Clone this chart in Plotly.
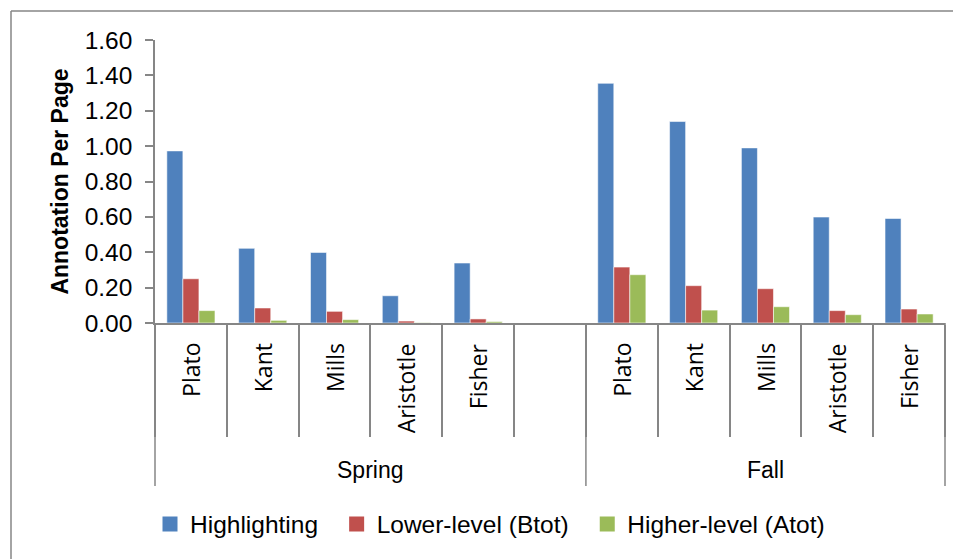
import plotly.graph_objects as go

# ---- data ----
seasons = ["Spring", "Fall"]
spring_names = ["Plato", "Kant", "Mills", "Aristotle", "Fisher"]
fall_names = ["Plato", "Kant", "Mills", "Aristotle", "Fisher"]
series_names = ["Highlighting", "Lower-level (Btot)", "Higher-level (Atot)"]
highlighting_spring = [0.973, 0.422, 0.399, 0.154, 0.339]
highlighting_fall = [1.355, 1.139, 0.990, 0.599, 0.591]
lower_spring = [0.250, 0.085, 0.066, 0.011, 0.023]
lower_fall = [0.316, 0.211, 0.194, 0.070, 0.079]
higher_spring = [0.070, 0.015, 0.019, 0.002, 0.008]
higher_fall = [0.273, 0.073, 0.092, 0.047, 0.051]
y_ticks = [0.0, 0.2, 0.4, 0.6, 0.8, 1.0, 1.2, 1.4, 1.6]

colors = ["#4F81BD", "#C0504D", "#9BBB59"]

# category keys: 5 spring, one empty slot, 5 fall
cats = ["Spring " + n for n in spring_names] + ["Spring (blank)"] + ["Fall " + n for n in fall_names]
labels = spring_names + [""] + fall_names

def build(sp, fa):
    return list(sp) + [None] + list(fa)

series_vals = [
    build(highlighting_spring, highlighting_fall),
    build(lower_spring, lower_fall),
    build(higher_spring, higher_fall),
]

FONT = "Liberation Sans"
GRAY = "#868686"

# page has an 8px body offset; figure is sized/placed to compensate
OFF = 8
W, H = 961 - OFF, 559 - OFF
L, R, T, B = 155 - OFF, 16, 40 - OFF, 236
PW = W - L - R
PH = H - T - B
BOTTOM = 323  # page y of plot bottom

def py(px):
    """page pixel y -> paper fraction"""
    return -(px - BOTTOM) / PH

def pxx(px):
    """page pixel x -> paper fraction"""
    return (px - 155) / PW

fig = go.Figure()
for name, vals, col in zip(series_names, series_vals, colors):
    fig.add_trace(go.Bar(
        x=cats, y=vals, name=name, showlegend=False,
        marker=dict(color=col, line=dict(color="rgba(255,255,255,0.55)", width=1)),
    ))
# legend entries (square swatches)
pad = "\u00a0\u00a0"
for name, col in zip(series_names, colors):
    fig.add_trace(go.Scatter(
        x=[None], y=[None], mode="markers", name=name + pad,
        marker=dict(symbol="square", size=15, color=col),
    ))

shapes = []
# outer divider extensions (inner separators come from axis ticks)
for xr, xv in [("paper", 0), ("x", 5.5), ("paper", 1)]:
    shapes.append(dict(type="line", xref=xr, yref="paper", x0=xv, x1=xv,
                       y0=0, y1=py(486), line=dict(color=GRAY, width=1.5)))
# outer border (left and top)
shapes.append(dict(type="line", xref="paper", yref="paper",
                   x0=pxx(11), x1=pxx(11), y0=py(11), y1=py(620),
                   line=dict(color=GRAY, width=1.5)))
shapes.append(dict(type="line", xref="paper", yref="paper",
                   x0=pxx(11), x1=pxx(975), y0=py(11), y1=py(11),
                   line=dict(color=GRAY, width=1.5)))

annotations = []
for i, lab in enumerate(labels):
    if lab:
        annotations.append(dict(x=cats[i], y=py(341), xref="x", yref="paper",
                                text=lab, textangle=-90, showarrow=False,
                                xanchor="center", yanchor="top",
                                font=dict(family="Open Sans", size=23, color="black")))
annotations.append(dict(x=2.5, y=py(470), xref="x", yref="paper", text=seasons[0],
                        showarrow=False, xanchor="center", yanchor="middle",
                        font=dict(family=FONT, size=23, color="black")))
annotations.append(dict(x=8, y=py(470), xref="x", yref="paper", text=seasons[1],
                        showarrow=False, xanchor="center", yanchor="middle",
                        font=dict(family=FONT, size=23, color="black")))

fig.update_layout(
    width=W, height=H,
    margin=dict(l=L, r=R, t=T, b=B, pad=0),
    paper_bgcolor="white", plot_bgcolor="white",
    barmode="group", bargap=0.33, bargroupgap=0,
    showlegend=True,
    legend=dict(orientation="h", x=pxx(150), xanchor="left", y=py(524), yanchor="middle",
                font=dict(family=FONT, size=24.5, color="black"),
                itemwidth=30, traceorder="normal"),
    shapes=shapes, annotations=annotations,
    xaxis=dict(type="category", categoryorder="array", categoryarray=cats,
               range=[-0.5, 10.5], showticklabels=False, showgrid=False,
               showline=True, linecolor=GRAY, linewidth=1.5,
               ticks="outside", tickson="boundaries", ticklen=112,
               tickcolor=GRAY, tickwidth=1.5, zeroline=False),
    yaxis=dict(range=[0, 1.6], tickvals=y_ticks, tickformat=".2f",
               showgrid=False, zeroline=False,
               showline=True, linecolor=GRAY, linewidth=1.5,
               ticks="outside", ticklen=8, tickcolor=GRAY, tickwidth=1.5,
               ticklabelstandoff=8,
               tickfont=dict(family=FONT, size=24.5, color="black"),
               title=dict(text="<b>Annotation Per Page</b>", standoff=10,
                          font=dict(family=FONT, size=23, color="black"))),
)

fig.write_html("out.html")
